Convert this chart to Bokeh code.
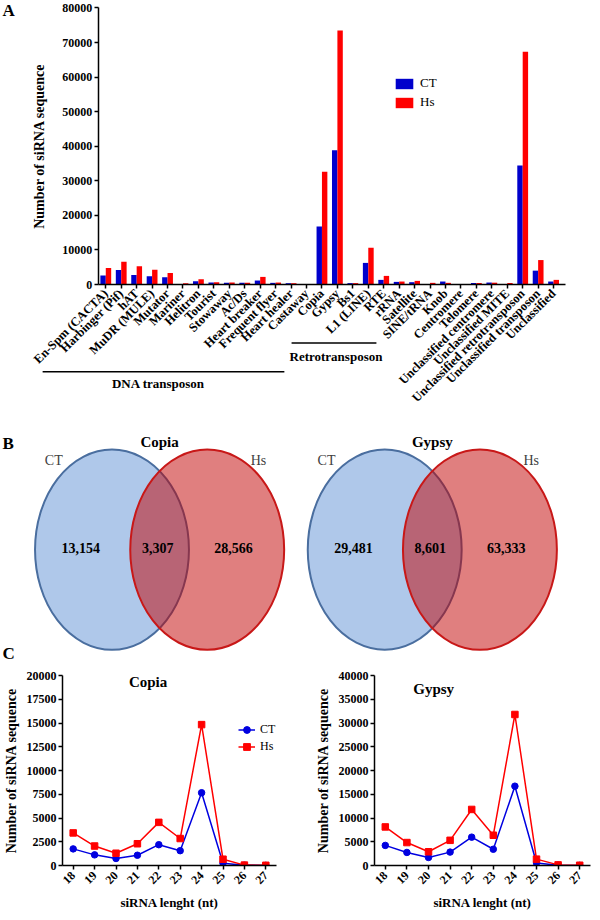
import math
from bokeh.plotting import figure
from bokeh.models import (Range1d, LinearAxis, FixedTicker, Label, Legend,
                          LegendItem, ColumnDataSource)
from bokeh.layouts import column, row
from bokeh.embed import file_html
from bokeh.resources import INLINE
from bokeh.core.properties import value

# ---------------- data ----------------
categories = ["En-Spm (CACTA)", "Harbinger (Pif)", "hAT", "MuDR (MULE)", "Mutator",
              "Mariner", "Helitron", "Tourist", "Stowaway", "Ac/Ds", "Heart breaker",
              "Frequent flyer", "Heart healer", "Castaway", "Copia", "Gypsy", "Bs1",
              "L1 (LINE)", "RTE", "rRNA", "Satellite", "SINE/tRNA", "Knob", "Centromere",
              "Telomere", "Unclassified centromere", "Unclassified MITE",
              "Unclassified retrotransposon", "Unclassified transposon", "Unclassified"]
ct_counts = [2580, 4200, 2770, 2390, 2100, 0, 960, 570, 530, 480, 1150, 480, 380, 0,
             16800, 38800, 400, 6250, 1340, 760, 670, 0, 860, 0, 430, 570, 0,
             34400, 4010, 860]
hs_counts = [4780, 6600, 5260, 4300, 3350, 350, 1530, 670, 570, 480, 2200, 570, 380, 0,
             32600, 73500, 400, 10600, 2490, 860, 1050, 480, 480, 0, 430, 530, 430,
             67300, 7070, 1340]
y_ticks_a = list(range(0, 80001, 10000))
group_names = ["DNA transposon", "Retrotransposon"]

venn_titles = ["Copia", "Gypsy"]
venn_ct_only = [13154, 29481]
venn_shared = [3307, 8601]
venn_hs_only = [28566, 63333]

lengths = [18, 19, 20, 21, 22, 23, 24, 25, 26, 27]
copia_ct = [1750, 1120, 740, 1080, 2190, 1560, 7660, 240, 30, 10]
copia_hs = [3430, 2050, 1290, 2290, 4540, 2840, 14830, 660, 40, 20]
gypsy_ct = [4230, 2750, 1690, 2820, 5970, 3420, 16700, 540, 60, 20]
gypsy_hs = [8120, 4830, 2890, 5300, 11800, 6370, 31790, 1340, 130, 50]

# ---------------- style / layout ----------------
SERIF = "Liberation Serif"
BLUE = "#0000CC"
RED = "#FF0000"
LBLUE = "#0000E0"
W = 592
HA, HB, HC = 412, 251, 249
SX = W / 600.0
SY = (HA + HB + HC) / 920.0


def style_axis(axis, size="12px"):
    axis.axis_line_width = 1.5
    axis.axis_line_color = "black"
    axis.major_tick_line_width = 1.5
    axis.major_tick_out = 4
    axis.major_tick_in = 0
    axis.minor_tick_out = 0
    axis.minor_tick_in = 0
    axis.major_label_text_font = SERIF
    axis.major_label_text_font_style = "bold"
    axis.major_label_text_font_size = size
    axis.major_label_text_color = "black"
    axis.major_label_standoff = 2
    axis.axis_label_text_font = SERIF
    axis.axis_label_text_font_style = "bold"
    axis.axis_label_text_font_size = "14px"
    axis.axis_label_text_color = "black"


# ---------------- panel A ----------------
A_X0, A_DX = 106.7, 15.65          # reference px of first category, px per category
A_Y0, A_YPX = 284.0, 279.0 / 80000  # reference px of baseline, px per count
A_SHIFT = 2.5                       # keep the top tick label inside the canvas


def ax(px):
    return (px - A_X0) / A_DX


def ay(py):
    return (A_Y0 - py) / A_YPX


pA = figure(width=W, height=HA, x_range=Range1d(ax(0), ax(600)),
            y_range=Range1d(ay(HA / SY - A_SHIFT), ay(-A_SHIFT)), x_axis_location=None,
            y_axis_location=None, min_border=0, toolbar_location=None,
            output_backend="svg", outline_line_color=None)
pA.xgrid.grid_line_color = None
pA.ygrid.grid_line_color = None

idx = list(range(len(categories)))
srcA = ColumnDataSource(dict(x_ct=[i - 0.175 for i in idx], x_hs=[i + 0.175 for i in idx],
                             ct=ct_counts, hs=hs_counts))
r_ct = pA.vbar(x="x_ct", top="ct", width=0.35, source=srcA, fill_color=BLUE, line_color=None)
r_hs = pA.vbar(x="x_hs", top="hs", width=0.35, source=srcA, fill_color=RED, line_color=None)

yaxA = LinearAxis(fixed_location=ax(99), bounds=(0, 80000),
                  ticker=FixedTicker(ticks=y_ticks_a))
style_axis(yaxA)
pA.add_layout(yaxA, "left")

xaxA = LinearAxis(fixed_location=0, bounds=(ax(99), ax(573)),
                  ticker=FixedTicker(ticks=idx),
                  major_label_overrides={i: c for i, c in enumerate(categories)},
                  major_label_orientation=math.pi / 4)
style_axis(xaxA, "12.5px")
xaxA.major_label_standoff = 3
pA.add_layout(xaxA, "below")

pA.segment(x0=[ax(42.7), ax(295)], y0=[ay(372), ay(343)],
           x1=[ax(287.7), ax(381)], y1=[ay(372), ay(343)],
           line_color="black", line_width=1.5)
pA.text(x=[ax(160), ax(340)], y=[ay(384), ay(357)], text=group_names,
        text_font=value(SERIF), text_font_style="bold", text_font_size="13px",
        text_align="center", text_baseline="middle", text_color="black")

pA.add_layout(Label(x=ax(40), y=ay(144.5), text="Number of siRNA sequence",
                    angle=math.pi / 2, text_align="center", text_baseline="middle",
                    text_font=SERIF, text_font_style="bold", text_font_size="14px",
                    text_color="black"))
pA.add_layout(Label(x=ax(2), y=ay(8), text="A", text_align="left",
                    text_baseline="middle", text_font=SERIF, text_font_style="bold",
                    text_font_size="17px", text_color="black"))

leg_top = (83 + A_SHIFT) * SY - 7.5          # top of the legend, px from the canvas top
legA = Legend(items=[LegendItem(label="CT", renderers=[r_ct]),
                     LegendItem(label="Hs", renderers=[r_hs])],
              location=(round(401 * SX - 2.2), round(HA - leg_top - 33)),
              orientation="vertical", padding=0, margin=0,
              spacing=3, glyph_width=22, glyph_height=13, label_height=15,
              label_standoff=5, border_line_color=None, background_fill_alpha=0,
              label_text_font=SERIF, label_text_font_size="13px",
              label_text_color="black")
pA.add_layout(legA)

# ---------------- panel B (Venn) ----------------
B_TOP = HA / SY
B_BOT = (HA + HB) / SY
pB = figure(width=W, height=HB, x_range=Range1d(0, 600), y_range=Range1d(B_BOT, B_TOP),
            x_axis_location=None, y_axis_location=None, min_border=0,
            toolbar_location=None, output_backend="svg", outline_line_color=None)
pB.xgrid.grid_line_color = None
pB.ygrid.grid_line_color = None

VENN_CX = [113.0, 389.4]
VENN_DX = 96.5
VENN_RX, VENN_RY, VENN_CY = 78.0, 101.0, 554.0
for k in range(2):
    cl = VENN_CX[k]
    cr = cl + VENN_DX
    pB.ellipse(x=[cl], y=[VENN_CY], width=[2 * VENN_RX], height=[2 * VENN_RY],
               fill_color="#AFC8EA", line_color="#4A6E9F", line_width=2)
    pB.ellipse(x=[cr], y=[VENN_CY], width=[2 * VENN_RX], height=[2 * VENN_RY],
               fill_color="#C20000", fill_alpha=0.5, line_color="#C81818", line_width=2)
    nums = [venn_ct_only[k], venn_shared[k], venn_hs_only[k]]
    xs = [(cl - VENN_RX + cr - VENN_RX) / 2 - 2, (cl + cr) / 2 - 2,
          (cl + VENN_RX + cr + VENN_RX) / 2 - 3]
    pB.text(x=xs, y=[VENN_CY - 2] * 3, text=[f"{v:,}" for v in nums],
            text_font=value(SERIF), text_font_style="bold", text_font_size="14px",
            text_align="center", text_baseline="middle", text_color="black")
    pB.text(x=[(cl + cr) / 2], y=[445], text=[venn_titles[k]],
            text_font=value(SERIF), text_font_style="bold", text_font_size="15px",
            text_align="center", text_baseline="middle", text_color="black")
    pB.text(x=[cl - 59, cr + 52], y=[464, 464], text=["CT", "Hs"],
            text_font=value(SERIF), text_font_size="14px",
            text_align="center", text_baseline="middle", text_color="#404040")

pB.text(x=[2, 2], y=[447, 659], text=["B", "C"], text_font=value(SERIF),
        text_font_style="bold", text_font_size="17px", text_align="left",
        text_baseline="middle", text_color="black")

# ---------------- panel C ----------------
C_TOP = (HA + HB) / SY


def line_panel(title, ct, hs, ymax, ystep, ref_left, ref_right, ref_top, fig_x0,
               title_x, legend):
    wfig = W // 2
    mbl = round((ref_left - fig_x0) * SX)
    mbr = round(wfig - (ref_right - fig_x0) * SX)
    mbt = round((ref_top - C_TOP) * SY)
    mbb = round(HC - (873 - C_TOP) * SY)
    p = figure(width=wfig, height=HC, x_range=Range1d(17.5, 27.5),
               y_range=Range1d(0, ymax), min_border_left=mbl, min_border_right=mbr,
               min_border_top=mbt, min_border_bottom=mbb, toolbar_location=None,
               output_backend="svg", outline_line_color=None)
    p.xgrid.grid_line_color = None
    p.ygrid.grid_line_color = None
    p.xaxis.ticker = FixedTicker(ticks=lengths)
    p.yaxis.ticker = FixedTicker(ticks=list(range(0, ymax + 1, ystep)))
    for a in p.xaxis + p.yaxis:
        style_axis(a)
    p.xaxis.major_label_orientation = math.pi / 4
    p.xaxis.major_label_standoff = 4
    p.xaxis.axis_label = "siRNA lenght (nt)"
    p.xaxis.axis_label_text_font_size = "13px"
    p.xaxis.axis_label_standoff = 4
    p.yaxis.axis_label = "Number of siRNA sequence"
    p.yaxis.axis_label_standoff = 5
    l1 = p.line(lengths, ct, line_color=LBLUE, line_width=1.5)
    s1 = p.scatter(lengths, ct, marker="circle", size=6.5, fill_color=LBLUE,
                   line_color=LBLUE)
    l2 = p.line(lengths, hs, line_color=RED, line_width=1.5)
    s2 = p.scatter(lengths, hs, marker="square", size=6.5, fill_color=RED,
                   line_color=RED)
    p.add_layout(Label(x=title_x, y=ymax * (873 - 688) / (873 - ref_top), text=title,
                       text_align="center", text_baseline="middle", text_font=SERIF,
                       text_font_style="bold", text_font_size="15px",
                       text_color="black"))
    if legend:
        fh = (873 - ref_top) * SY
        top = (736 - ref_top) * SY - 8.5
        leg = Legend(items=[LegendItem(label="CT", renderers=[l1, s1]),
                            LegendItem(label="Hs", renderers=[l2, s2])],
                     location=(round((238 - ref_left) * SX), round(fh - top - 34)),
                     padding=0, margin=0, spacing=0, glyph_width=17, glyph_height=17,
                     label_height=17, label_standoff=5, border_line_color=None,
                     background_fill_alpha=0, label_text_font=SERIF,
                     label_text_font_size="12px", label_text_color="black")
        p.add_layout(leg)
    return p


pC1 = line_panel("Copia", copia_ct, copia_hs, 20000, 2500, 60, 280, 681, 0, 21.5, True)
pC2 = line_panel("Gypsy", gypsy_ct, gypsy_hs, 40000, 5000, 379, 598, 674, 300, 20.24,
                 False)

layout = column(pA, pB, row(pC1, pC2))
open("out.html", "w").write(file_html(layout, INLINE))
